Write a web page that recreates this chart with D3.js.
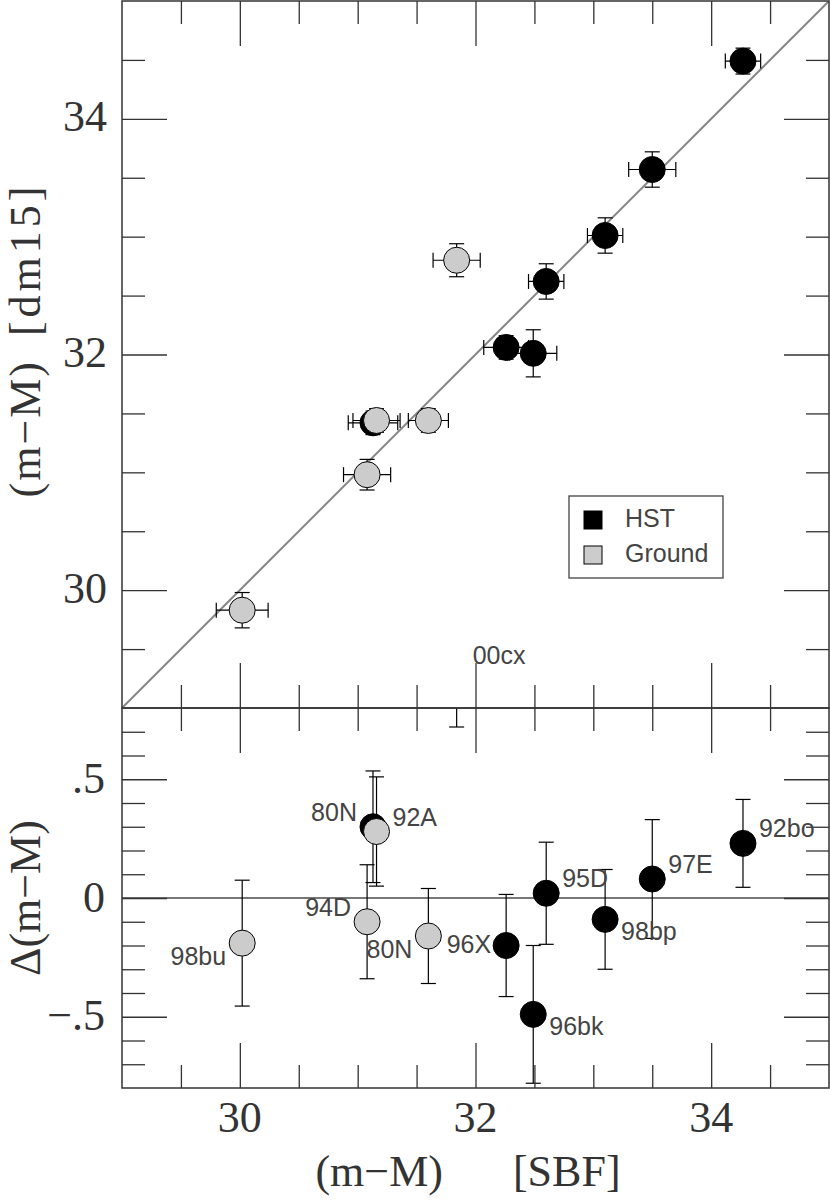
<!DOCTYPE html>
<html lang="en">
<head>
<meta charset="UTF-8">
<title>(m-M) dm15 vs SBF</title>
<script src="https://d3js.org/d3.v7.min.js"></script>
<style>
  body { margin: 0; background: #fff; }
  .axis path.domain { display: none; }
  .axis .tick line { stroke: #333; stroke-width: 1.3; }
  .lbl { font-family: "Liberation Serif", "DejaVu Serif", serif; font-size: 44px; fill: #333; }
  .sn { font-family: "Liberation Sans", Arial, sans-serif; font-size: 25px; fill: #444; }
</style>
</head>
<body>
<div id="chart"></div>
<script>
// supernova names and sample (HST or Ground)
var names   = ["98bu", "94D", "80N", "92A", "80N", "00cx", "96X", "96bk", "95D", "98bp", "97E", "92bo"];
var sample  = ["Ground", "Ground", "HST", "Ground", "Ground", "Ground", "HST", "HST", "HST", "HST", "HST", "HST"];
// (m-M) from SBF (x) and its error
var sbf     = [30.02, 31.08, 31.13, 31.16, 31.60, 31.84, 32.26, 32.49, 32.60, 33.10, 33.50, 34.27];
var sbfErr  = [0.22, 0.20, 0.21, 0.20, 0.17, 0.20, 0.19, 0.20, 0.15, 0.15, 0.20, 0.15];
// (m-M) from dm15 (y, upper panel) and its error
var dm15    = [29.83, 30.98, 31.42, 31.44, 31.44, 32.80, 32.06, 32.01, 32.62, 33.01, 33.57, 34.49];
var dm15Err = [0.15, 0.13, 0.10, 0.10, 0.10, 0.14, 0.10, 0.20, 0.15, 0.15, 0.15, 0.11];
// residual Delta(m-M) (lower panel) and its error
var delta    = [-0.19, -0.10, 0.30, 0.28, -0.16, 0.96, -0.20, -0.49, 0.02, -0.09, 0.08, 0.23];
var deltaErr = [0.265, 0.24, 0.235, 0.23, 0.20, 0.24, 0.215, 0.29, 0.215, 0.21, 0.25, 0.185];

var xTicks = [30, 32, 34];
var xTickLabels = ["30", "32", "34"];
var yUpTicks = [30, 32, 34];
var yUpTickLabels = ["30", "32", "34"];
var yLoTicks = [0.5, 0, -0.5];
var yLoTickLabels = [".5", "0", "\u2212.5"];
var legendItems = ["HST", "Ground"];

var W = 830, H = 1200;
var left = 122, right = 829, yTop = 1, mid = 708, bottom = 1088;
var colors = { HST: "#000", Ground: "#cccccc" };

var svg = d3.select("#chart").append("svg")
  .attr("width", W).attr("height", H);

var x = d3.scaleLinear().domain([29, 35]).range([left, right]);
var yUp = d3.scaleLinear().domain([29, 35]).range([mid, yTop]);
var yLo = d3.scaleLinear().domain([-0.8, 0.8]).range([bottom, mid]);

var xMinor = d3.range(29.5, 35, 0.5).filter(function (v) { return xTicks.indexOf(v) < 0; });
var yUpMinor = d3.range(29.5, 35, 0.5).filter(function (v) { return yUpTicks.indexOf(v) < 0; });
var yLoMinor = d3.range(-7, 8).map(function (v) { return v / 10; })
  .filter(function (v) { return v % 0.5 !== 0; });

// ticks on all four sides of a panel, pointing inwards
function frameTicks(ys, y0, y1, yMaj, yMin) {
  var g = svg.append("g");
  [[xTicks, 45], [xMinor, 23]].forEach(function (t) {
    g.append("g").attr("class", "axis").attr("transform", "translate(0," + y1 + ")")
      .call(d3.axisBottom(x).tickValues(t[0]).tickSize(-t[1]).tickFormat(""));
    g.append("g").attr("class", "axis").attr("transform", "translate(0," + y0 + ")")
      .call(d3.axisTop(x).tickValues(t[0]).tickSize(-t[1]).tickFormat(""));
  });
  [[yMaj, 45], [yMin, 23]].forEach(function (t) {
    g.append("g").attr("class", "axis").attr("transform", "translate(" + left + ",0)")
      .call(d3.axisLeft(ys).tickValues(t[0]).tickSize(-t[1]).tickFormat(""));
    g.append("g").attr("class", "axis").attr("transform", "translate(" + right + ",0)")
      .call(d3.axisRight(ys).tickValues(t[0]).tickSize(-t[1]).tickFormat(""));
  });
  g.append("rect").attr("x", left).attr("y", y0)
    .attr("width", right - left).attr("height", y1 - y0)
    .attr("fill", "none").attr("stroke", "#333").attr("stroke-width", 1.5);
}

var defs = svg.append("defs");
defs.append("clipPath").attr("id", "clipUp").append("rect")
  .attr("x", left).attr("y", yTop).attr("width", right - left).attr("height", mid - yTop);
defs.append("clipPath").attr("id", "clipLo").append("rect")
  .attr("x", left).attr("y", mid).attr("width", right - left).attr("height", bottom - mid);

// ---------- upper panel ----------
var up = svg.append("g").attr("clip-path", "url(#clipUp)");
up.append("line")
  .attr("x1", x(29)).attr("y1", yUp(29)).attr("x2", x(35)).attr("y2", yUp(35))
  .attr("stroke", "#888").attr("stroke-width", 2);

var cap = 7.5, r = 13;
var idx = d3.range(names.length);

function drawPoint(g, cx, cy, ylo, yhi, xlo, xhi, grp) {
  var p = g.append("g").attr("stroke", "#000").attr("stroke-width", 1.2);
  p.append("line").attr("x1", cx).attr("x2", cx).attr("y1", ylo).attr("y2", yhi);
  p.append("line").attr("x1", cx - cap).attr("x2", cx + cap).attr("y1", ylo).attr("y2", ylo);
  p.append("line").attr("x1", cx - cap).attr("x2", cx + cap).attr("y1", yhi).attr("y2", yhi);
  if (xlo !== null) {
    p.append("line").attr("x1", xlo).attr("x2", xhi).attr("y1", cy).attr("y2", cy);
    p.append("line").attr("x1", xlo).attr("x2", xlo).attr("y1", cy - cap).attr("y2", cy + cap);
    p.append("line").attr("x1", xhi).attr("x2", xhi).attr("y1", cy - cap).attr("y2", cy + cap);
  }
  p.append("circle").attr("cx", cx).attr("cy", cy).attr("r", r)
    .attr("fill", colors[grp]).attr("stroke-width", 1);
}

idx.forEach(function (i) {
  drawPoint(up, x(sbf[i]), yUp(dm15[i]),
    yUp(dm15[i] - dm15Err[i]), yUp(dm15[i] + dm15Err[i]),
    x(sbf[i] - sbfErr[i]), x(sbf[i] + sbfErr[i]), sample[i]);
});

frameTicks(yUp, yTop, mid, yUpTicks, yUpMinor);

// legend
var leg = svg.append("g");
leg.append("rect").attr("x", 569).attr("y", 496).attr("width", 154).attr("height", 82)
  .attr("fill", "#fff").attr("stroke", "#444").attr("stroke-width", 1.3);
legendItems.forEach(function (k, j) {
  leg.append("rect").attr("x", 584).attr("y", 511 + j * 35).attr("width", 18).attr("height", 18)
    .attr("fill", colors[k]).attr("stroke", "#000").attr("stroke-width", 1);
  leg.append("text").attr("class", "sn").attr("x", 625).attr("y", 527 + j * 35).text(k);
});

// ---------- lower panel ----------
var lo = svg.append("g").attr("clip-path", "url(#clipLo)");
lo.append("line")
  .attr("x1", left).attr("x2", right).attr("y1", yLo(0)).attr("y2", yLo(0))
  .attr("stroke", "#777").attr("stroke-width", 2);

idx.forEach(function (i) {
  drawPoint(lo, x(sbf[i]), yLo(delta[i]),
    yLo(delta[i] - deltaErr[i]), yLo(delta[i] + deltaErr[i]), null, null, sample[i]);
});

frameTicks(yLo, mid, bottom, yLoTicks, yLoMinor);

// where each name sits around its point: [dx, dy, anchor]
var place = {
  ur: [16, -6, "start"], lr: [16, 21, "start"],
  ul: [-16, -6, "end"], ll: [-16, 22, "end"], l: [-15, 7, "end"]
};
var labelSide = ["ll", "ul", "ul", "ur", "ll", "ur", "l", "lr", "ur", "lr", "ur", "ur"];
svg.append("g").selectAll("text").data(idx).join("text")
  .attr("class", "sn")
  .attr("x", function (i) { return x(sbf[i]) + place[labelSide[i]][0]; })
  .attr("y", function (i) { return yLo(delta[i]) + place[labelSide[i]][1]; })
  .attr("text-anchor", function (i) { return place[labelSide[i]][2]; })
  .text(function (i) { return names[i]; });

// ---------- tick labels & titles ----------
svg.append("g").selectAll("text").data(xTicks).join("text")
  .attr("class", "lbl").attr("text-anchor", "middle")
  .attr("x", function (d) { return x(d); }).attr("y", 1132)
  .text(function (d, j) { return xTickLabels[j]; });

svg.append("g").selectAll("text").data(yUpTicks).join("text")
  .attr("class", "lbl").attr("text-anchor", "end").attr("dominant-baseline", "central")
  .attr("x", 107).attr("y", function (d) { return yUp(d) - 2; })
  .text(function (d, j) { return yUpTickLabels[j]; });

svg.append("g").selectAll("text").data(yLoTicks).join("text")
  .attr("class", "lbl").attr("text-anchor", "end").attr("dominant-baseline", "central")
  .attr("x", 105).attr("y", function (d) { return yLo(d) - 1; })
  .text(function (d, j) { return yLoTickLabels[j]; });

var xt = svg.append("text").attr("class", "lbl").attr("text-anchor", "middle")
  .attr("x", 468).attr("y", 1186);
xt.append("tspan").text("(m\u2212M)");
xt.append("tspan").attr("dx", 70).text("[SBF]");

var yt = svg.append("text").attr("class", "lbl").attr("text-anchor", "middle")
  .attr("dominant-baseline", "central")
  .attr("transform", "translate(25,340) rotate(-90)");
yt.append("tspan").attr("letter-spacing", 2).text("(m\u2212M)");
yt.append("tspan").attr("dx", 24).attr("letter-spacing", 4).text("[dm15]");

svg.append("text").attr("class", "lbl").attr("text-anchor", "middle")
  .attr("dominant-baseline", "central")
  .attr("transform", "translate(25,898) rotate(-90)")
  .text("\u0394(m\u2212M)");
</script>
</body>
</html>
